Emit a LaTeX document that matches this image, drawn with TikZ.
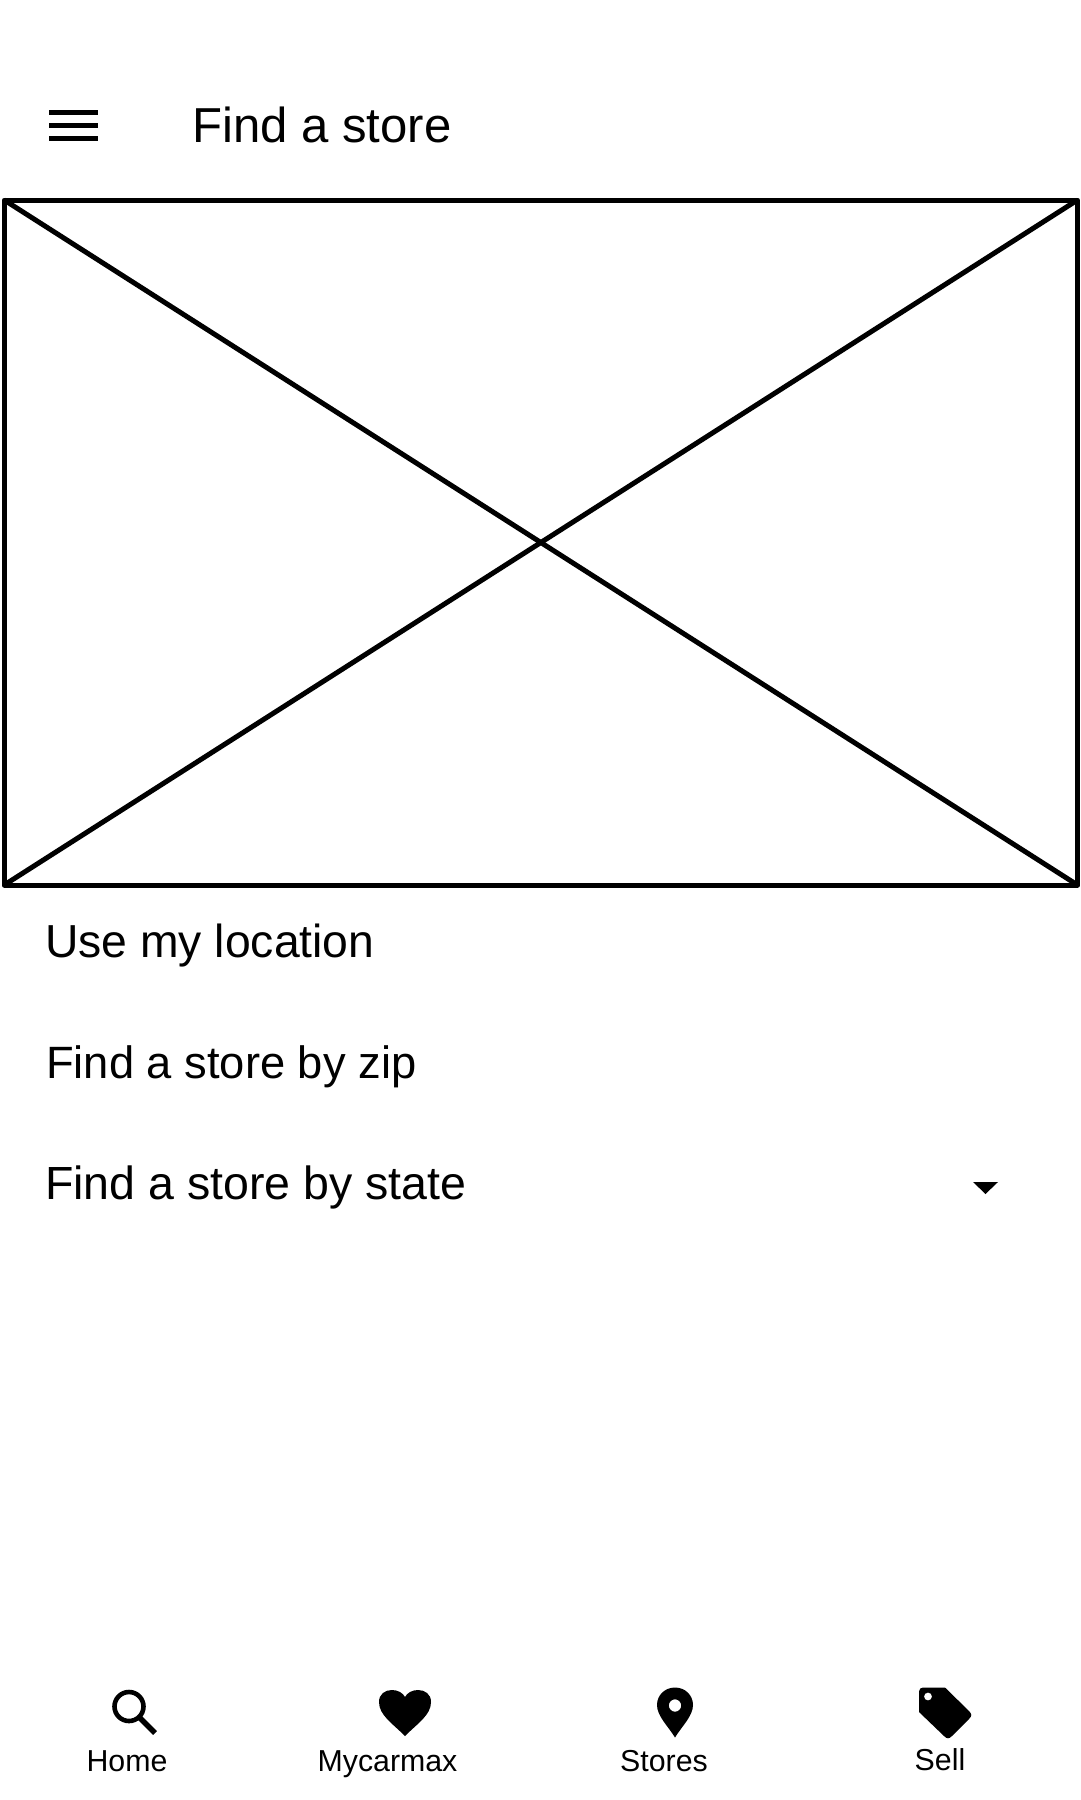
\documentclass[tikz,border=0pt]{standalone}
\usepackage{fontspec}
\setmainfont{Liberation Sans}
\tikzset{
  px/.style={x=1pt,y=-1pt},
  label at size/.style={anchor=base west,inner sep=0pt,font=\fontsize{#1}{#1}\selectfont},
  tab/.style={anchor=base,inner sep=0pt,font=\fontsize{30.3}{36}\selectfont},
  frame/.style={draw=black,line width=5pt,line join=round},
  bar/.style={draw=black,line width=5pt},
  glyph/.style={fill=black,draw=none}
}
\begin{document}
\begin{tikzpicture}[px]
\useasboundingbox[fill=white] (0,0) rectangle (1080,1800);
% header
\draw[bar] (49,112) -- (98,112);
\draw[bar] (49,125) -- (98,125);
\draw[bar] (49,138) -- (98,138);
\node[label at size=49.1] (header) at (192,142) {Find a store};
% placeholder
\draw[frame] (4.2,200) rectangle (1077.5,885);
\draw[frame] (4.2,200) -- (1077.5,885);
\draw[frame] (4.2,885) -- (1077.5,200);
% options
\node[label at size=46.3] (loc) at (45,957) {Use my location};
\node[label at size=45.3] (zip) at (46,1078) {Find a store by zip};
\node[label at size=46.5] (state) at (45,1199) {Find a store by state};
\fill[glyph] (973,1182) -- (998,1182) -- (985.5,1194) -- cycle;
% search icon
\draw[black,line width=4.6pt] (129,1706.5) circle (14.5);
\draw[black,line width=5.4pt] (140,1718) -- (155,1733);
\node[tab] (home) at (127,1771) {Home};
% heart
\fill[glyph] (405,1736)
  .. controls (392,1723) and (379,1715) .. (379,1702)
  .. controls (379,1694) and (385,1690) .. (392,1690)
  .. controls (398,1690) and (403,1693) .. (405,1697)
  .. controls (407,1693) and (412,1690) .. (418,1690)
  .. controls (425,1690) and (431,1694) .. (431,1702)
  .. controls (431,1715) and (418,1723) .. (405,1736) -- cycle;
\node[tab] (mycar) at (387.5,1771) {Mycarmax};
% pin
\fill[glyph,even odd rule] (675,1737.5)
  .. controls (668,1726) and (657,1716) .. (657,1705)
  .. controls (657,1695) and (665,1687.5) .. (675,1687.5)
  .. controls (685,1687.5) and (693,1695) .. (693,1705)
  .. controls (693,1716) and (682,1726) .. (675,1737.5) -- cycle
  (675,1705.5) circle (6.2);
\node[tab] (stores) at (664,1771) {Stores};
% tag
\fill[glyph,even odd rule] (923,1687.5) -- (945,1687.5) -- (969,1711)
  .. controls (972,1714) and (972,1716) .. (969,1719)
  -- (952,1736)
  .. controls (949,1739) and (947,1739) .. (944,1736)
  -- (919,1712) -- (919,1691.5)
  .. controls (919,1689) and (921,1687.5) .. (923,1687.5) -- cycle
  (928,1696.5) circle (4);
\node[tab] (sell) at (940,1770) {Sell};
\end{tikzpicture}
\end{document}
